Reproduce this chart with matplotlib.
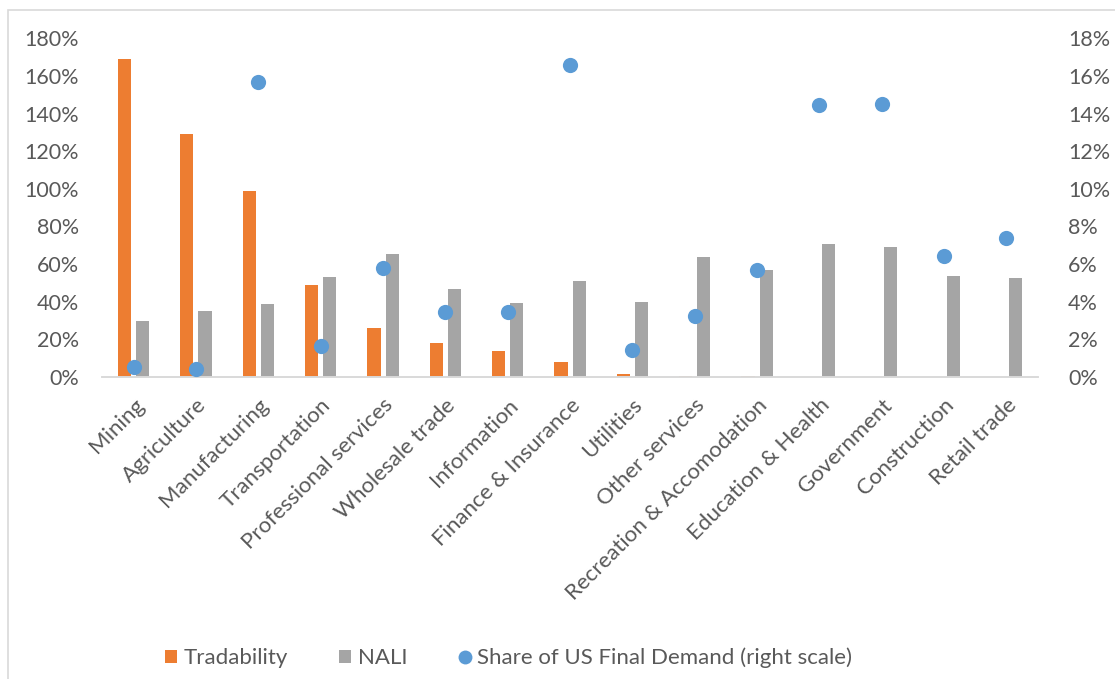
import matplotlib
matplotlib.use("Agg")
import matplotlib.pyplot as plt
import numpy as np
from matplotlib.patches import Patch, Rectangle
from matplotlib.lines import Line2D
from matplotlib.ticker import FuncFormatter, MultipleLocator

categories = ["Mining", "Agriculture", "Manufacturing", "Transportation",
              "Professional services", "Wholesale trade", "Information",
              "Finance & Insurance", "Utilities", "Other services",
              "Recreation & Accomodation", "Education & Health", "Government",
              "Construction", "Retail trade"]
tradability = [169, 129, 99, 49, 26, 18.3, 13.7, 8.0, 1.6, 0.4, 0.4, 0, 0, 0, 0]
nali = [30, 35.3, 38.8, 52.9, 65.4, 47, 39.4, 50.9, 39.7, 63.7, 56.9, 70.7, 69, 53.6, 52.5]
demand_share = [0.55, 0.43, 15.66, 1.65, 5.77, 3.46, 3.46, 16.56, 1.46, 3.23, 5.69,
                14.44, 14.51, 6.42, 7.38]

ORANGE = "#ED7D31"
GRAY = "#A5A5A5"
BLUE = "#5B9BD5"
TEXT = "#595959"
LINE = "#D9D9D9"

plt.rcParams["font.family"] = ["Lato", "DejaVu Sans"]
FS_Y = 15.5
FS_X = 16
FS_LEG = 16

fig = plt.figure(figsize=(11.15, 6.79), dpi=100)
ax = fig.add_axes([0.0919, 0.4448, 0.8387, 0.4988])
ax2 = ax.twinx()

x = np.arange(len(categories))
w = 0.21
off = 0.145
ax.bar(x - off, tradability, width=w, color=ORANGE, zorder=2)
ax.bar(x + off, nali, width=w, color=GRAY, zorder=2)
ax2.scatter(x, demand_share, s=120, color=BLUE, zorder=3, linewidths=0)

ax.set_xlim(-0.5, len(categories) - 0.5)
ax.set_ylim(0, 180)
ax2.set_ylim(0, 18)
ax.yaxis.set_major_locator(MultipleLocator(20))
ax2.yaxis.set_major_locator(MultipleLocator(2))
ax.yaxis.set_major_formatter(FuncFormatter(lambda v, p: f"{v:.0f}%"))
ax2.yaxis.set_major_formatter(FuncFormatter(lambda v, p: f"{v:.0f}%"))

for a in (ax, ax2):
    for side in ("top", "left", "right"):
        a.spines[side].set_visible(False)
    a.spines["bottom"].set_color(LINE)
    a.spines["bottom"].set_linewidth(1.2)
    a.tick_params(length=0, colors=TEXT, labelsize=FS_Y)

ax.tick_params(axis="y", pad=17)
ax2.tick_params(axis="y", pad=22)
ax.set_xticks(x)
ax.set_xticklabels(categories, rotation=45, ha="right", rotation_mode="anchor",
                   fontsize=FS_X, color=TEXT)
ax.tick_params(axis="x", pad=13)

handles = [
    Patch(facecolor=ORANGE, edgecolor="none"),
    Patch(facecolor=GRAY, edgecolor="none"),
    Line2D([], [], marker="o", linestyle="none", markersize=10,
           markerfacecolor=BLUE, markeredgecolor="none"),
]
labels = ["Tradability", "NALI", "Share of US Final Demand (right scale)"]
fig.legend(handles, labels, loc="center", bbox_to_anchor=(0.456, 0.031),
           ncol=3, frameon=False, fontsize=FS_LEG, labelcolor=TEXT,
           handlelength=0.55, handleheight=0.55, handletextpad=0.3,
           columnspacing=2.3, borderaxespad=0)

fig.patches.append(Rectangle((8 / 1115, -0.05), 1.2, (679 - 10) / 679 + 0.05,
                             transform=fig.transFigure, fill=False,
                             edgecolor=LINE, linewidth=1.2))

fig.savefig("out.png", dpi=100)
